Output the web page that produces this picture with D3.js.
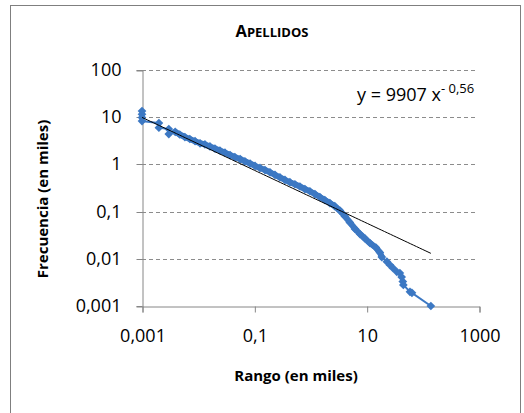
<!DOCTYPE html>
<html>
<head>
<meta charset="utf-8">
<script src="https://cdn.jsdelivr.net/npm/d3@7"></script>
<style>
	body { margin: 0; background: #fff; }
	text { font-family: "Open Sans", sans-serif; fill: #000; }
</style>
</head>
<body>
<svg id="chart" width="524" height="413"></svg>
<script>
// Rank (thousands) and frequency (thousands)
const rank = [0.001, 0.001, 0.001, 0.001, 0.002, 0.002, 0.003, 0.003,
	0.0039, 0.0047, 0.0058, 0.0071, 0.0088, 0.0108, 0.0132, 0.0162, 0.0199, 0.0244,
	0.030, 0.037, 0.045, 0.056, 0.068, 0.084, 0.103, 0.126, 0.155, 0.190,
	0.233, 0.286, 0.351, 0.430, 0.528, 0.648, 0.795, 0.976, 1.20, 1.47,
	1.80, 2.21, 2.71, 3.34, 4.09, 5.02, 6.2, 7.6, 9.3, 11.4,
	14.6, 17.2, 18.6, 22.9, 25.9, 29.2, 34.4, 39, 42, 44, 45, 59, 64, 139];
const freq = [13.5, 11.5, 9.8, 8.3, 7.5, 6.0, 5.6, 4.4,
	4.9, 4.3, 3.8, 3.45, 3.1, 2.8, 2.65, 2.40, 2.17, 1.97,
	1.77, 1.58, 1.43, 1.30, 1.16, 1.04, 0.93, 0.84, 0.76, 0.68,
	0.60, 0.53, 0.47, 0.42, 0.38, 0.34, 0.30, 0.27, 0.235, 0.204,
	0.176, 0.152, 0.130, 0.105, 0.080, 0.059, 0.043, 0.0335, 0.027, 0.0216,
	0.0173, 0.0136, 0.0109, 0.0087, 0.0074, 0.0064, 0.0053, 0.0050, 0.0041, 0.0033, 0.0028, 0.0020, 0.0019, 0.001];

const xTicks = [0.001, 0.1, 10, 1000];
const yTicks = [0.001, 0.01, 0.1, 1, 10, 100];

// Power trendline y = 9907 x^-0,56 (in persons vs rank)
const trendA = 9907, trendB = -0.56;

const svg = d3.select("#chart");
const blue = "#3c78c3";

const x = d3.scaleLog().domain([0.001, 1000]).range([142, 479]);
const y = d3.scaleLog().domain([0.001, 100]).range([306, 70]);
const fmt = d => String(d).replace(".", ",");

// outer frame
svg.append("rect")
		.attr("x", 10.5).attr("y", 5.5)
		.attr("width", 510).attr("height", 420)
		.attr("fill", "#fff")
		.attr("stroke", "#7f7f7f");

// dashed gridlines
svg.append("g")
	.selectAll("line")
	.data(yTicks.slice(1))
	.enter()
	.append("line")
		.attr("x1", 142).attr("x2", 478)
		.attr("y1", d => Math.round(y(d)) + 0.5)
		.attr("y2", d => Math.round(y(d)) + 0.5)
		.attr("stroke", "#8c8c8c")
		.attr("stroke-dasharray", "4,3");

// axes
const yAxis = svg.append("g")
		.attr("transform", "translate(142.5,0.5)")
		.call(d3.axisLeft(y).tickValues(yTicks).tickFormat(fmt).tickSize(6).tickPadding(15));
const xAxis = svg.append("g")
		.attr("transform", "translate(0.5,306.5)")
		.call(d3.axisBottom(x).tickValues(xTicks).tickFormat(fmt).tickSize(6).tickPadding(17));

[yAxis, xAxis].forEach(g => {
	g.select(".domain").attr("stroke", "#868686");
	g.selectAll(".tick line").attr("stroke", "#868686");
	g.selectAll(".tick text")
			.attr("font-family", "Open Sans")
			.attr("font-size", 18)
			.attr("fill", "#000");
});
yAxis.selectAll(".tick").each(function(d) {
	d3.select(this).attr("transform", `translate(0,${Math.round(y(d))})`);
});

const pts = rank.map((r, i) => [r, freq[i]]);
const line = d3.line().x(d => x(d[0])).y(d => y(d[1]));

// series line
svg.append("path")
		.datum(pts)
		.attr("fill", "none")
		.attr("stroke", blue)
		.attr("stroke-width", 2)
		.attr("d", line);

// where the markers overlap into a solid band
svg.append("path")
		.datum(pts.filter(d => d[0] > 0.0035 && d[0] < 19))
		.attr("fill", "none")
		.attr("stroke", blue)
		.attr("stroke-width", 6)
		.attr("stroke-linejoin", "round")
		.attr("stroke-linecap", "round")
		.attr("d", line);

// diamond markers
svg.append("g")
	.selectAll("path")
	.data(pts)
	.enter()
	.append("path")
		.attr("d", d3.symbol(d3.symbolSquare, 38))
		.attr("fill", blue)
		.attr("transform", d => `translate(${x(d[0])},${y(d[1])}) rotate(45)`);

// trendline
const trendX = [0.001, d3.max(rank)];
const trendPts = d3.range(0, 101).map(i => {
	const r = trendX[0] * Math.pow(trendX[1] / trendX[0], i / 100);
	return [r, trendA * Math.pow(r * 1000, trendB) / 1000];
});
svg.append("path")
		.datum(trendPts)
		.attr("fill", "none")
		.attr("stroke", "#000")
		.attr("stroke-width", 1)
		.attr("d", line);

// title in small caps
const title = svg.append("text")
		.attr("x", 272).attr("y", 37)
		.attr("text-anchor", "middle")
		.attr("font-weight", "bold");
title.append("tspan").attr("font-size", 16.5).text("A");
title.append("tspan").attr("font-size", 13).text("PELLIDOS");

// equation
const eq = svg.append("text")
		.attr("x", 357).attr("y", 101)
		.attr("font-size", 18);
eq.append("tspan").text("y = 9907 x");
eq.append("tspan").attr("font-size", 13).attr("dy", -8).text("- 0,56");

// axis titles
svg.append("text")
		.attr("x", 296).attr("y", 381)
		.attr("text-anchor", "middle")
		.attr("font-size", 15)
		.attr("font-weight", "bold")
		.text("Rango (en miles)");

svg.append("text")
		.attr("transform", "translate(48,199) rotate(-90)")
		.attr("text-anchor", "middle")
		.attr("font-size", 15)
		.attr("font-weight", "bold")
		.text("Frecuencia (en miles)");
</script>
</body>
</html>
